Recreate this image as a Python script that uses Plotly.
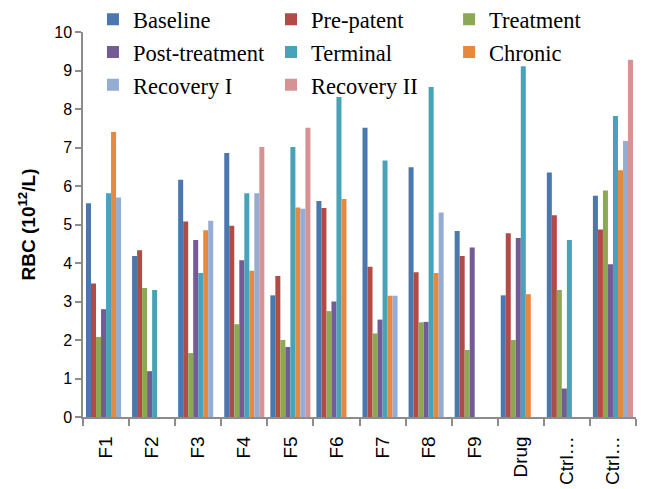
import plotly.graph_objects as go

# Group labels along the x axis
groups = ["F1", "F2", "F3", "F4", "F5", "F6", "F7", "F8", "F9", "Drug", "Ctrl…", "Ctrl…"]

# RBC counts (10^12/L) per phase; None = not measured
baseline       = [5.55, 4.18, 6.16, 6.86, 3.16, 5.61, 7.51, 6.49, 4.83, 3.16, 6.35, 5.75]
pre_patent     = [3.47, 4.33, 5.08, 4.97, 3.66, 5.43, 3.90, 3.76, 4.18, 4.77, 5.24, 4.87]
treatment      = [2.08, 3.35, 1.66, 2.41, 2.00, 2.75, 2.17, 2.46, 1.74, 2.00, 3.30, 5.88]
post_treatment = [2.80, 1.19, 4.60, 4.07, 1.82, 3.00, 2.53, 2.47, 4.40, 4.65, 0.74, 3.97]
terminal       = [5.81, 3.30, 3.74, 5.81, 7.01, 8.31, 6.66, 8.57, None, 9.11, 4.60, 7.82]
chronic        = [7.40, None, 4.85, 3.80, 5.44, 5.66, 3.15, 3.74, None, 3.19, None, 6.41]
recovery_1     = [5.70, None, 5.10, 5.81, 5.41, None, 3.15, 5.31, None, None, None, 7.17]
recovery_2     = [None, None, None, 7.01, 7.51, None, None, None, None, None, None, 9.28]

series = [
    ("Baseline", baseline, "#4a77ae", "legend"),
    ("Pre-patent", pre_patent, "#b24b46", "legend2"),
    ("Treatment", treatment, "#8ca855", "legend3"),
    ("Post-treatment", post_treatment, "#735b96", "legend"),
    ("Terminal", terminal, "#48a2b8", "legend2"),
    ("Chronic", chronic, "#e7883f", "legend3"),
    ("Recovery I", recovery_1, "#95add5", "legend"),
    ("Recovery II", recovery_2, "#d59393", "legend2"),
]

x_pos = list(range(len(groups)))

fig = go.Figure()
for name, vals, color, leg in series:
    fig.add_trace(go.Bar(
        x=x_pos, y=vals, name=name, legend=leg, legendgroup=name,
        marker=dict(color=color, line=dict(width=0)),
    ))

axis_col = "#8c8c8c"
leg_font = dict(family="Liberation Serif, Times New Roman, serif", size=22.5, color="#000")
leg_common = dict(
    orientation="v", yanchor="top", xanchor="left", y=1.088,
    bgcolor="rgba(0,0,0,0)", borderwidth=0, font=leg_font,
    tracegroupgap=0.5, itemclick=False, itemdoubleclick=False,
)

fig.update_layout(
    width=649, height=489,
    margin=dict(l=83, r=13, t=32, b=72, autoexpand=False),
    paper_bgcolor="white", plot_bgcolor="white",
    barmode="group", bargap=0.13, bargroupgap=0,
    showlegend=True,
    legend=dict(x=0.018, **leg_common),
    legend2=dict(x=0.340, **leg_common),
    legend3=dict(x=0.662, **leg_common),
    xaxis=dict(
        range=[-0.5, len(groups) - 0.5],
        tickmode="array", tickvals=x_pos, ticktext=groups,
        tickangle=-90, ticks="", showgrid=False, zeroline=False,
        ticklabelstandoff=10,
        showline=True, linecolor=axis_col, linewidth=1.5,
        tickfont=dict(family="Liberation Sans, Arial, sans-serif", size=19, color="#000"),
        minor=dict(tickmode="linear", tick0=-0.5, dtick=1, ticks="outside",
                   ticklen=7, tickcolor=axis_col, tickwidth=1.5, showgrid=False),
    ),
    yaxis=dict(
        range=[0, 10], dtick=1, ticks="outside", ticklen=6,
        tickcolor=axis_col, tickwidth=1.5,
        showgrid=False, zeroline=False,
        showline=True, linecolor=axis_col, linewidth=1.5,
        tickfont=dict(family="Liberation Sans, Arial, sans-serif", size=16, color="#000"),
        title=dict(text="<b>RBC (10<sup>12</sup>/L)</b>", standoff=14,
                   font=dict(family="Liberation Sans, Arial, sans-serif", size=19, color="#000")),
    ),
)

fig.write_html("out.html")
